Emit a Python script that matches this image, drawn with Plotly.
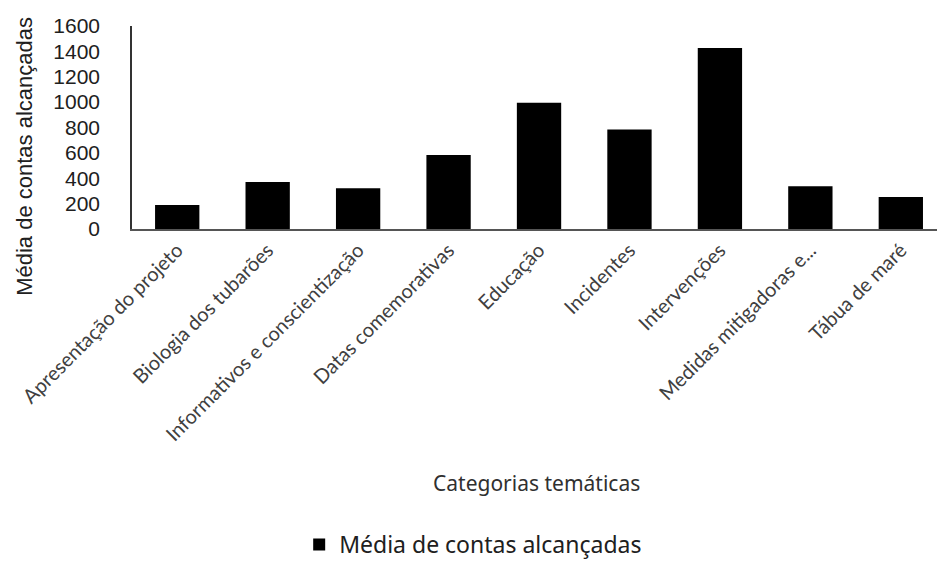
import plotly.graph_objects as go

# Categorias temáticas e média de contas alcançadas por categoria
categorias = [
    "Apresentação do projeto",
    "Biologia dos tubarões",
    "Informativos e conscientização",
    "Datas comemorativas",
    "Educação",
    "Incidentes",
    "Intervenções",
    "Medidas mitigadoras e...",
    "Tábua de maré",
]
media_contas = [189, 371, 321, 584, 995, 784, 1426, 337, 253]

y_ticks = [0, 200, 400, 600, 800, 1000, 1200, 1400, 1600]

TXT = "#404040"

fig = go.Figure()
fig.add_trace(go.Bar(
    x=list(range(len(categorias))),
    y=media_contas,
    name="Média de contas alcançadas",
    marker=dict(color="#000000", line=dict(width=0)),
    width=0.49,
))

fig.update_layout(
    width=937,
    height=566,
    margin=dict(l=132, r=0, t=26, b=337),
    plot_bgcolor="white",
    paper_bgcolor="white",
    showlegend=True,
    legend=dict(
        orientation="h",
        xref="container", yref="container",
        x=0.505, y=0.0, xanchor="center", yanchor="bottom",
        font=dict(family="Noto Sans", size=23, color="#202020"),
        itemwidth=30,
    ),
    xaxis=dict(
        tickmode="array",
        tickvals=list(range(len(categorias))),
        ticktext=categorias,
        tickangle=-45,
        range=[-0.5, 8.4],
        showline=True, linecolor="#555555", linewidth=1.5,
        ticks="", showgrid=False, zeroline=False,
        tickfont=dict(family="Lato", size=20, color=TXT),
    ),
    yaxis=dict(
        range=[0, 1600],
        tickmode="array",
        tickvals=y_ticks,
        showline=True, linecolor="#333333", linewidth=1.5,
        ticks="", showgrid=False, zeroline=False,
        tickfont=dict(family="Liberation Sans", size=21, color="#202020"),
        ticklabelstandoff=26,
    ),
    annotations=[
        dict(
            text="Categorias temáticas",
            xref="paper", yref="paper",
            x=0.503, y=-1.25, showarrow=False,
            xanchor="center", yanchor="middle",
            font=dict(family="Noto Sans", size=21, color="#303030"),
        ),
        dict(
            text="Média de contas alcançadas",
            xref="paper", yref="paper",
            x=-0.133, y=0.36, showarrow=False, textangle=-90,
            xanchor="center", yanchor="middle",
            font=dict(family="Liberation Sans", size=22, color="#202020"),
        ),
    ],
)

fig.write_html("out.html")
